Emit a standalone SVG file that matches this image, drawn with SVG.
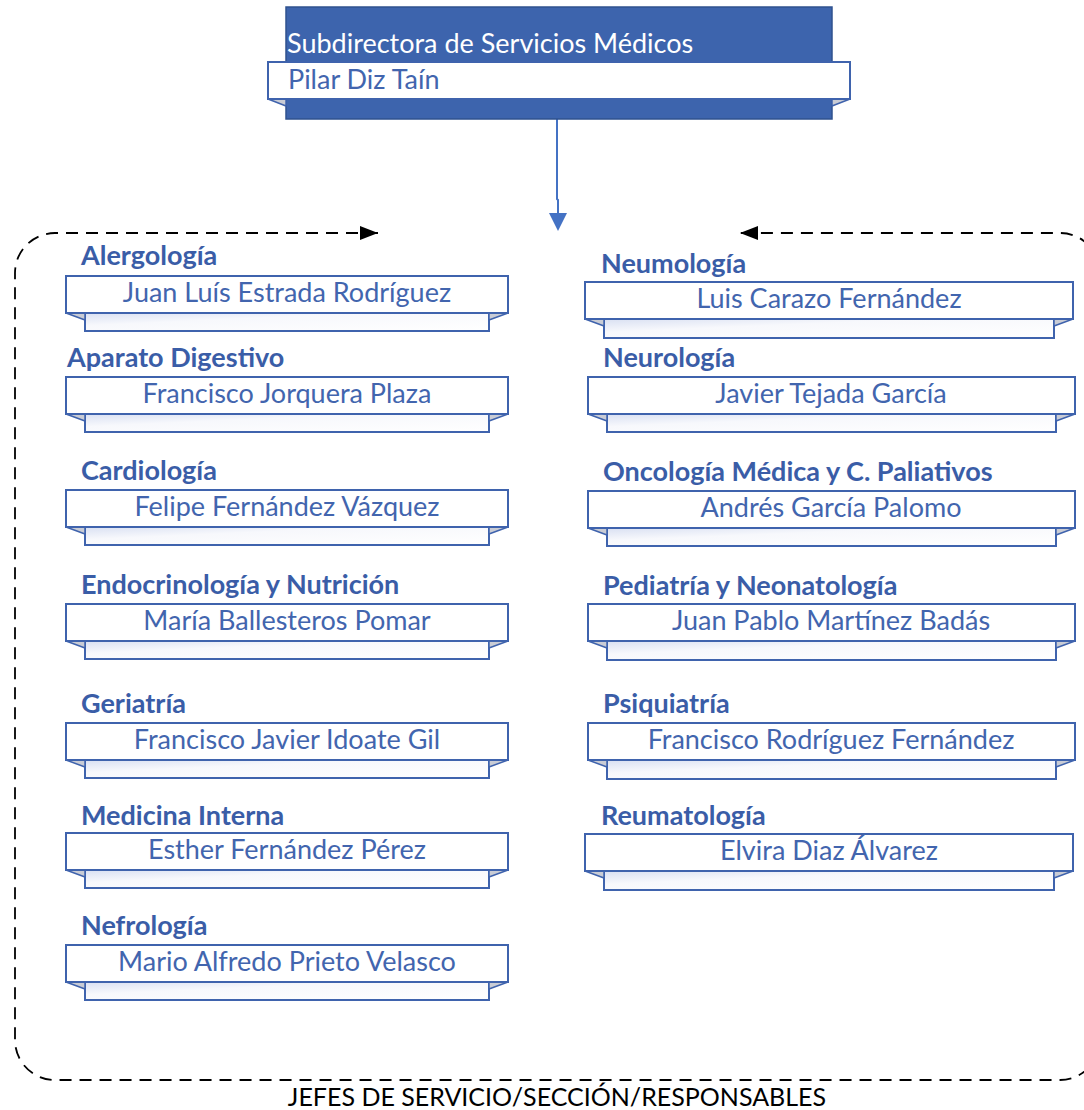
<svg xmlns="http://www.w3.org/2000/svg" width="1084" height="1110" viewBox="0 0 1084 1110">
<style>
.ttl{font-family:Lato,"Liberation Sans",sans-serif;font-weight:bold;font-size:27px;fill:#3A5DA7}
.nm{font-family:Lato,"Liberation Sans",sans-serif;font-size:27px;fill:#4265AE;text-anchor:middle}
.card{fill:#FFFFFF;stroke:#3F63AD;stroke-width:2}
.rib{fill:url(#ribg);stroke:#3F63AD;stroke-width:2}
.fold{fill:#C9CCD5;stroke:#3F63AD;stroke-width:1.5;stroke-linejoin:round}
.top{font-family:Lato,"Liberation Sans",sans-serif;font-size:27px}
</style>
<defs>
<linearGradient id="ribg" x1="0" y1="0" x2="1" y2="1">
<stop offset="0" stop-color="#D9E0F2"/>
<stop offset="0.35" stop-color="#F7F8FC"/>
<stop offset="1" stop-color="#FFFFFF"/>
</linearGradient>
<marker id="ah" viewBox="0 0 18 14" refX="18" refY="7" markerWidth="18" markerHeight="14" markerUnits="userSpaceOnUse" orient="auto-start-reverse">
<path d="M0,0 L18,7 L0,14 Z" fill="#000"/>
</marker>
</defs>

<g id="connectors">
<path d="M378,233 H55 A40,40 0 0 0 15,273 V1040 A40,40 0 0 0 55,1080 H1060 A40,40 0 0 0 1100,1040 V273 A40,40 0 0 0 1060,233 H740" fill="none" stroke="#000" stroke-width="1.8" stroke-dasharray="12 8" marker-start="url(#ah)" marker-end="url(#ah)"/>
<path d="M557,119 V199 L558,200 V214" fill="none" stroke="#4472C4" stroke-width="2"/>
<polygon points="549,213 567,213 558,231" fill="#4472C4"/>
</g>

<g id="node-top">
<rect x="286" y="7" width="546" height="112" fill="#3D64AD" stroke="#2F528F" stroke-width="1.5"/>
<polygon class="fold" points="268,99 286,99 286,106"/>
<polygon class="fold" points="850,99 832,99 832,106"/>
<rect x="268" y="62" width="582" height="37" class="card"/>
<text class="top" x="287" y="53" fill="#FFFFFF">Subdirectora de Servicios Médicos</text>
<text class="top" x="288" y="89" fill="#4265AE">Pilar Diz Taín</text>
</g>

<g id="node-alergologia">
<text class="ttl" x="81" y="265">Alergología</text>
<rect class="rib" x="85" y="313" width="404" height="18"/>
<polygon class="fold" points="66,313 85,313 85,320"/>
<polygon class="fold" points="508,313 489,313 489,320"/>
<rect class="card" x="66" y="276" width="442" height="37"/>
<text class="nm" x="287" y="302">Juan Luís Estrada Rodríguez</text>
</g>

<g id="node-digestivo">
<text class="ttl" x="67" y="367">Aparato Digestivo</text>
<rect class="rib" x="85" y="414" width="404" height="18"/>
<polygon class="fold" points="66,414 85,414 85,421"/>
<polygon class="fold" points="508,414 489,414 489,421"/>
<rect class="card" x="66" y="377" width="442" height="37"/>
<text class="nm" x="287" y="403">Francisco Jorquera Plaza</text>
</g>

<g id="node-cardiologia">
<text class="ttl" x="81" y="480">Cardiología</text>
<rect class="rib" x="85" y="527" width="404" height="18"/>
<polygon class="fold" points="66,527 85,527 85,534"/>
<polygon class="fold" points="508,527 489,527 489,534"/>
<rect class="card" x="66" y="490" width="442" height="37"/>
<text class="nm" x="287" y="516">Felipe Fernández Vázquez</text>
</g>

<g id="node-endocrinologia">
<text class="ttl" x="81" y="594">Endocrinología y Nutrición</text>
<rect class="rib" x="85" y="641" width="404" height="18"/>
<polygon class="fold" points="66,641 85,641 85,648"/>
<polygon class="fold" points="508,641 489,641 489,648"/>
<rect class="card" x="66" y="604" width="442" height="37"/>
<text class="nm" x="287" y="630">María Ballesteros Pomar</text>
</g>

<g id="node-geriatria">
<text class="ttl" x="81" y="713">Geriatría</text>
<rect class="rib" x="85" y="760" width="404" height="18"/>
<polygon class="fold" points="66,760 85,760 85,767"/>
<polygon class="fold" points="508,760 489,760 489,767"/>
<rect class="card" x="66" y="723" width="442" height="37"/>
<text class="nm" x="287" y="749">Francisco Javier Idoate Gil</text>
</g>

<g id="node-medicina-interna">
<text class="ttl" x="81" y="825">Medicina Interna</text>
<rect class="rib" x="85" y="870" width="404" height="18"/>
<polygon class="fold" points="66,870 85,870 85,877"/>
<polygon class="fold" points="508,870 489,870 489,877"/>
<rect class="card" x="66" y="833" width="442" height="37"/>
<text class="nm" x="287" y="859">Esther Fernández Pérez</text>
</g>

<g id="node-nefrologia">
<text class="ttl" x="81" y="935">Nefrología</text>
<rect class="rib" x="85" y="982" width="404" height="18"/>
<polygon class="fold" points="66,982 85,982 85,989"/>
<polygon class="fold" points="508,982 489,982 489,989"/>
<rect class="card" x="66" y="945" width="442" height="37"/>
<text class="nm" x="287" y="971">Mario Alfredo Prieto Velasco</text>
</g>

<g id="node-neumologia">
<text class="ttl" x="601" y="273">Neumología</text>
<rect class="rib" x="604" y="319" width="450" height="19"/>
<polygon class="fold" points="585,319 604,319 604,326"/>
<polygon class="fold" points="1073,319 1054,319 1054,326"/>
<rect class="card" x="585" y="282" width="488" height="37"/>
<text class="nm" x="829" y="308">Luis Carazo Fernández</text>
</g>

<g id="node-neurologia">
<text class="ttl" x="603" y="367">Neurología</text>
<rect class="rib" x="607" y="414" width="449" height="18"/>
<polygon class="fold" points="588,414 607,414 607,421"/>
<polygon class="fold" points="1075,414 1056,414 1056,421"/>
<rect class="card" x="588" y="377" width="487" height="37"/>
<text class="nm" x="831" y="403">Javier Tejada García</text>
</g>

<g id="node-oncologia">
<text class="ttl" x="603" y="481">Oncología Médica y C. Paliativos</text>
<rect class="rib" x="607" y="528" width="449" height="18"/>
<polygon class="fold" points="588,528 607,528 607,535"/>
<polygon class="fold" points="1075,528 1056,528 1056,535"/>
<rect class="card" x="588" y="491" width="487" height="37"/>
<text class="nm" x="831" y="517">Andrés García Palomo</text>
</g>

<g id="node-pediatria">
<text class="ttl" x="603" y="595">Pediatría y Neonatología</text>
<rect class="rib" x="607" y="641" width="449" height="19"/>
<polygon class="fold" points="588,641 607,641 607,648"/>
<polygon class="fold" points="1075,641 1056,641 1056,648"/>
<rect class="card" x="588" y="604" width="487" height="37"/>
<text class="nm" x="831" y="630">Juan Pablo Martínez Badás</text>
</g>

<g id="node-psiquiatria">
<text class="ttl" x="603" y="713">Psiquiatría</text>
<rect class="rib" x="607" y="760" width="449" height="19"/>
<polygon class="fold" points="588,760 607,760 607,767"/>
<polygon class="fold" points="1075,760 1056,760 1056,767"/>
<rect class="card" x="588" y="723" width="487" height="37"/>
<text class="nm" x="831" y="749">Francisco Rodríguez Fernández</text>
</g>

<g id="node-reumatologia">
<text class="ttl" x="601" y="825">Reumatología</text>
<rect class="rib" x="604" y="871" width="450" height="19"/>
<polygon class="fold" points="585,871 604,871 604,878"/>
<polygon class="fold" points="1073,871 1054,871 1054,878"/>
<rect class="card" x="585" y="834" width="488" height="37"/>
<text class="nm" x="829" y="860">Elvira Diaz Álvarez</text>
</g>

<g id="caption">
<text x="557" y="1106" font-family="Lato,'Liberation Sans',sans-serif" font-size="25" fill="#000" text-anchor="middle">JEFES DE SERVICIO/SECCIÓN/RESPONSABLES</text>
</g>
</svg>
